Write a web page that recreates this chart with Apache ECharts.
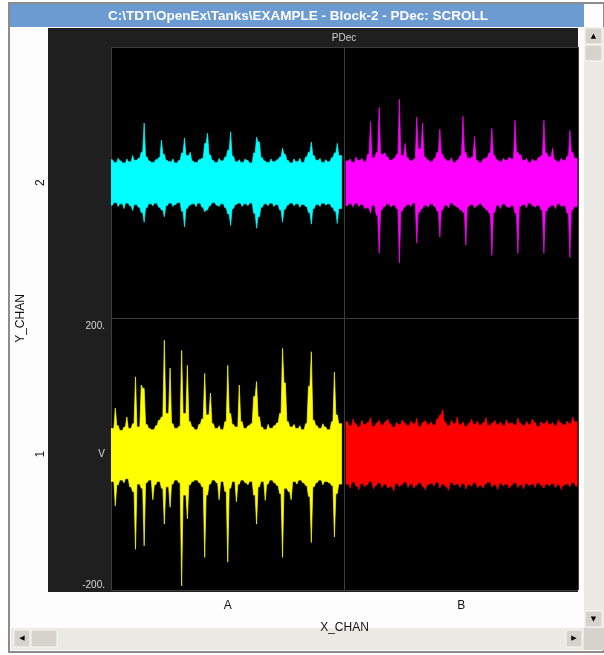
<!DOCTYPE html>
<html><head><meta charset="utf-8">
<script src="https://cdn.jsdelivr.net/npm/echarts@6/dist/echarts.min.js"></script>
<style>html,body{margin:0;padding:0;background:#fff}#c{width:604px;height:655px}</style>
</head><body><div id="c"></div>
<script>
const titleText = 'C:\\TDT\\OpenEx\\Tanks\\EXAMPLE - Block-2 - PDec: SCROLL';
const panelTitle = 'PDec';
const xCategories = ['A', 'B'];
const yCategories = ['1', '2'];
const yTickValues = [-200, 0, 200];
const yTickLabels = ['-200.', 'V', '200.'];

// envelope samples (upper / lower excursion per sample), 80 samples per channel
const cyanHi = [34,30,36,32,29,35,31,40,33,36, 45,88,38,32,30,34,37,63,42,33, 31,35,29,33,44,66,40,45,32,30, 34,36,58,73,41,33,30,36,32,38, 48,75,39,31,34,30,35,33,29,44, 67,60,37,32,30,35,31,34,38,51, 42,33,29,35,31,36,30,38,45,60, 40,33,36,30,34,31,37,44,58,40];
const cyanLo = [-33,-29,-35,-31,-38,-30,-34,-41,-32,-36, -44,-58,-37,-31,-34,-30,-36,-40,-50,-34, -30,-35,-32,-29,-42,-65,-38,-33,-31,-35, -30,-36,-43,-40,-34,-29,-33,-35,-31,-37, -46,-63,-38,-32,-30,-35,-31,-34,-30,-45, -67,-50,-36,-31,-34,-30,-35,-32,-40,-58, -39,-33,-30,-34,-31,-36,-32,-35,-44,-61, -38,-32,-35,-30,-33,-31,-36,-42,-60,-38];
const magentaHi = [32,35,30,38,33,36,31,42,90,37, 45,111,42,44,38,33,36,42,123,40, 58,37,32,35,97,50,88,38,34,31, 36,45,79,42,35,32,37,30,34,40, 98,45,36,38,68,33,30,35,37,44, 80,40,34,31,36,33,38,35,92,45, 41,33,36,30,35,32,37,40,92,44, 38,51,34,31,36,33,39,77,45,36];
const magentaLo = [-34,-31,-36,-30,-35,-32,-38,-37,-45,-33, -48,-104,-40,-35,-31,-36,-33,-38,-118,-42, -36,-32,-35,-30,-89,-44,-38,-33,-36,-31, -35,-42,-80,-40,-33,-37,-30,-34,-36,-40, -44,-92,-35,-32,-37,-34,-31,-36,-40,-45, -107,-44,-33,-38,-31,-35,-37,-34,-45,-104, -35,-32,-37,-30,-34,-36,-33,-40,-104,-42, -36,-33,-38,-31,-35,-34,-45,-110,-40,-35];
const yellowHi = [38,68,42,35,40,55,38,45,114,40, 102,97,44,38,36,42,50,55,168,60, 127,45,38,41,153,60,131,48,40,36, 44,52,119,58,90,45,38,42,36,48, 131,60,44,40,102,48,38,42,45,85, 107,55,40,36,44,38,42,46,60,156, 105,48,40,44,38,42,36,45,100,151, 50,42,38,45,40,36,48,121,58,45];
const yellowLo = [-40,-76,-45,-38,-42,-36,-48,-55,-140,-44, -50,-135,-42,-38,-67,-45,-40,-50,-103,-48, -78,-44,-38,-42,-194,-60,-95,-45,-40,-38, -42,-48,-152,-60,-44,-38,-42,-67,-40,-55, -159,-50,-40,-70,-44,-38,-42,-45,-40,-60, -103,-48,-40,-68,-44,-38,-42,-46,-58,-152, -50,-55,-67,-40,-44,-38,-42,-46,-62,-130, -48,-42,-38,-45,-40,-42,-46,-122,-58,-44];
const redHi = [48,42,52,45,40,50,44,47,54,41, 46,50,43,48,52,45,40,47,44,51, 46,42,49,45,53,41,47,50,44,48, 43,52,58,66,47,42,50,45,55,44, 48,41,46,52,44,49,43,47,54,42, 46,50,44,48,42,51,45,47,43,53, 46,42,49,44,52,47,41,48,45,50, 44,47,42,51,46,43,49,45,55,48];
const redLo = [-44,-50,-41,-47,-52,-43,-48,-45,-40,-51, -46,-42,-49,-44,-50,-47,-54,-43,-48,-45, -41,-49,-44,-50,-46,-42,-48,-52,-45,-43, -47,-41,-50,-44,-48,-53,-42,-46,-44,-49, -43,-51,-45,-47,-42,-49,-46,-50,-44,-41, -48,-45,-52,-43,-47,-44,-50,-46,-42,-49, -45,-51,-43,-47,-44,-49,-42,-46,-50,-44, -47,-43,-49,-45,-52,-46,-44,-48,-42,-47];

const PL = 111, PT = 47, PW = 467, PH = 543;
const HW = PW / 2, HH = PH / 2;
const FONT = 'Liberation Sans';
const chart = echarts.init(document.getElementById('c'), null, { renderer: 'canvas' });

const panels = [
  { hi: cyanHi, lo: cyanLo, color: '#00ffff', left: PL, top: PT, xMin: 0, xMax: 81 },
  { hi: magentaHi, lo: magentaLo, color: '#ff00ff', left: PL + HW, top: PT, xMin: -0.5, xMax: 80.3 },
  { hi: yellowHi, lo: yellowLo, color: '#ffff00', left: PL, top: PT + HH, xMin: 0, xMax: 81 },
  { hi: redHi, lo: redLo, color: '#ff0000', left: PL + HW, top: PT + HH, xMin: -0.5, xMax: 80.3 }
];

// each sample is drawn as a narrow peak above / below the band
function envelopeRenderer(hi, lo, color) {
  return function (params, api) {
    const n = hi.length, pts = [];
    for (let i = 0; i < n; i++) {
      const prev = i > 0 ? hi[i - 1] : hi[i];
      pts.push(api.coord([i, Math.min(prev, hi[i])]));
      pts.push(api.coord([i + 0.5, hi[i]]));
    }
    pts.push(api.coord([n, hi[n - 1]]));
    pts.push(api.coord([n, lo[n - 1]]));
    for (let i = n - 1; i >= 0; i--) {
      const next = i < n - 1 ? lo[i + 1] : lo[i];
      pts.push(api.coord([i + 1, Math.max(next, lo[i])]));
      pts.push(api.coord([i + 0.5, lo[i]]));
    }
    pts.push(api.coord([0, lo[0]]));
    return {
      type: 'polygon', shape: { points: pts },
      style: { fill: color, stroke: color, lineWidth: 0.7 }
    };
  };
}

const grids = [{ left: PL, top: PT, width: PW, height: PH, show: true, backgroundColor: '#000', borderWidth: 0, z: 1 }];
const xAxes = [{
  type: 'category', gridIndex: 0, data: xCategories, position: 'bottom',
  axisLine: { show: false }, axisTick: { show: false },
  axisLabel: { color: '#111', fontFamily: FONT, fontSize: 12, margin: 10 },
  splitLine: { show: true, lineStyle: { color: '#3c3c3c', width: 1 } },
  name: 'X_CHAN', nameLocation: 'middle', nameGap: 32,
  nameTextStyle: { color: '#111', fontFamily: FONT, fontSize: 12 }, z: 2
}];
const yAxes = [{
  type: 'category', gridIndex: 0, data: yCategories,
  axisLine: { show: false }, axisTick: { show: false },
  axisLabel: { color: '#111', fontFamily: FONT, fontSize: 12, rotate: 90, margin: 64 },
  splitLine: { show: true, lineStyle: { color: '#3c3c3c', width: 1 } },
  name: 'Y_CHAN', nameLocation: 'middle', nameGap: 74,
  nameTextStyle: { color: '#111', fontFamily: FONT, fontSize: 12 }, z: 2
}];
const series = [];
panels.forEach((p, k) => {
  const gi = k + 1;
  grids.push({ left: p.left, top: p.top, width: HW, height: HH, show: false, z: 3 });
  xAxes.push({ type: 'value', gridIndex: gi, min: p.xMin, max: p.xMax, show: false });
  const showLabels = (k === 2);
  yAxes.push({
    type: 'value', gridIndex: gi, min: -200, max: 200, interval: 200, show: showLabels,
    axisLine: { show: false }, axisTick: { show: false }, splitLine: { show: false },
    axisLabel: {
      show: showLabels, color: '#d8d8d8', fontFamily: FONT, fontSize: 10, margin: 6,
      verticalAlignMinLabel: 'bottom', verticalAlignMaxLabel: 'top',
      padding: [3, 0, 0, 0],
      formatter: v => yTickLabels[yTickValues.indexOf(v)]
    }, z: 4
  });
  series.push({
    type: 'custom', coordinateSystem: 'cartesian2d', xAxisIndex: gi, yAxisIndex: gi,
    data: [[0, 0]], renderItem: envelopeRenderer(p.hi, p.lo, p.color),
    silent: true, clip: true, z: 5, animation: false
  });
});

const graphics = [
  { type: 'rect', shape: { x: 9, y: 3, width: 595, height: 649 }, style: { fill: '#fdfdfd', stroke: '#8c8c8c', lineWidth: 2 }, z: -20 },
  { type: 'rect', shape: { x: 10, y: 4, width: 574, height: 23 }, style: { fill: '#6b9bd1' }, z: -10 },
  { type: 'text', x: 298, y: 16, style: { text: titleText, fill: '#fff', font: 'bold 13.5px "Liberation Sans"', align: 'center', verticalAlign: 'middle' }, z: 10 },
  { type: 'rect', shape: { x: 48, y: 28, width: 530, height: 564 }, style: { fill: '#1f1f1f' }, z: -10 },
  { type: 'text', x: 344, y: 38, style: { text: panelTitle, fill: '#d0d0d0', font: '10px "Liberation Sans"', align: 'center', verticalAlign: 'middle' }, z: 10 },
  { type: 'rect', shape: { x: 584, y: 27, width: 20, height: 601 }, style: { fill: '#ebe9e3' }, z: -10 },
  { type: 'rect', shape: { x: 585, y: 28, width: 17, height: 16 }, style: { fill: '#d6d3cc', stroke: '#f8f8f8', lineWidth: 1 }, z: -9 },
  { type: 'text', x: 593.5, y: 36, style: { text: '▲', fill: '#000', font: '7px "DejaVu Sans"', align: 'center', verticalAlign: 'middle' }, z: -8 },
  { type: 'rect', shape: { x: 585, y: 45, width: 17, height: 16 }, style: { fill: '#d6d3cc', stroke: '#f8f8f8', lineWidth: 1 }, z: -9 },
  { type: 'rect', shape: { x: 585, y: 611, width: 17, height: 16 }, style: { fill: '#d6d3cc', stroke: '#f8f8f8', lineWidth: 1 }, z: -9 },
  { type: 'text', x: 593.5, y: 619, style: { text: '▼', fill: '#000', font: '7px "DejaVu Sans"', align: 'center', verticalAlign: 'middle' }, z: -8 },
  { type: 'rect', shape: { x: 11, y: 628, width: 573, height: 22 }, style: { fill: '#ebe9e3' }, z: -10 },
  { type: 'rect', shape: { x: 584, y: 628, width: 20, height: 22 }, style: { fill: '#d6d3cc' }, z: -10 },
  { type: 'rect', shape: { x: 14, y: 630, width: 16, height: 17 }, style: { fill: '#d6d3cc', stroke: '#f8f8f8', lineWidth: 1 }, z: -9 },
  { type: 'text', x: 22, y: 638.5, style: { text: '◀', fill: '#000', font: '7px "DejaVu Sans"', align: 'center', verticalAlign: 'middle' }, z: -8 },
  { type: 'rect', shape: { x: 31, y: 630, width: 26, height: 17 }, style: { fill: '#d6d3cc', stroke: '#f8f8f8', lineWidth: 1 }, z: -9 },
  { type: 'rect', shape: { x: 566, y: 630, width: 16, height: 17 }, style: { fill: '#d6d3cc', stroke: '#f8f8f8', lineWidth: 1 }, z: -9 },
  { type: 'text', x: 574, y: 638.5, style: { text: '▶', fill: '#000', font: '7px "DejaVu Sans"', align: 'center', verticalAlign: 'middle' }, z: -8 }
];

chart.setOption({
  backgroundColor: '#ffffff',
  animation: false,
  grid: grids,
  xAxis: xAxes,
  yAxis: yAxes,
  series: series,
  graphic: { elements: graphics }
});
</script>
</body></html>
